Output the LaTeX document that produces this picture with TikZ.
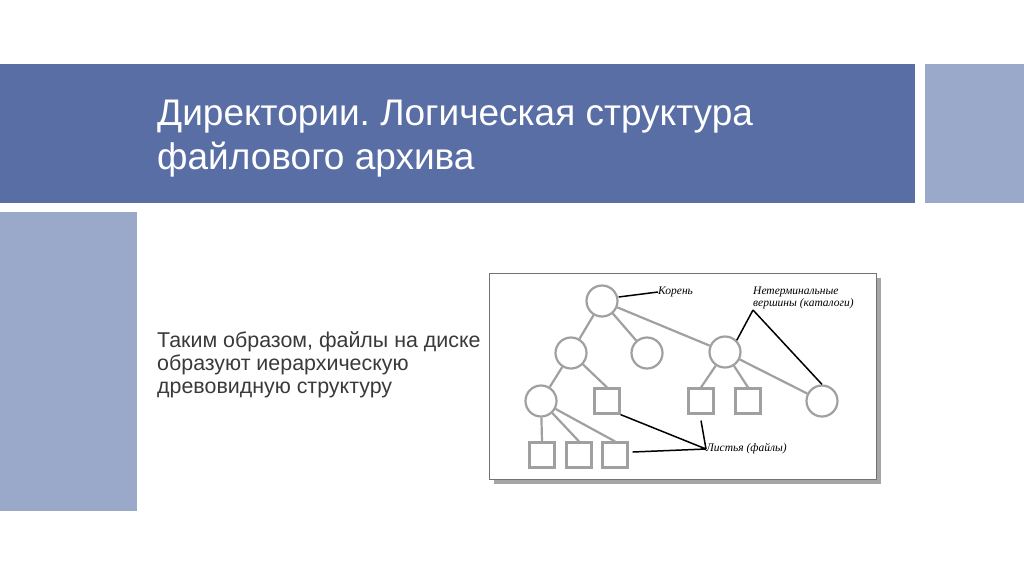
\documentclass[tikz,border=0pt]{standalone}
\usepackage{fontspec}
\setmainfont{Liberation Sans}
\newfontfamily\diagfont{Liberation Serif}
\frenchspacing
\definecolor{banner}{HTML}{5A6EA6}
\definecolor{lightban}{HTML}{9AA9CA}
\definecolor{bodytext}{HTML}{3A3A3A}
\definecolor{edgegrey}{HTML}{A0A0A0}
\begin{document}
\begin{tikzpicture}[x=1pt,y=-1pt,
  vert/.style={circle,draw=edgegrey,line width=2.2pt,minimum size=31pt,inner sep=0pt,fill=white},
  leaf/.style={rectangle,draw=edgegrey,line width=2.2pt,minimum size=25pt,inner sep=0pt,fill=white},
  treeedge/.style={draw=edgegrey,line width=2.2pt},
  pointer/.style={draw=black,line width=1.5pt},
  lbl/.style={font=\diagfont\itshape\fontsize{11.5}{11.5}\selectfont,inner sep=0pt,align=left}]
\useasboundingbox (0,0) rectangle (1024,576);
\fill[white] (0,0) rectangle (1024,576);
% banners
\fill[banner] (0,64) rectangle (915,203);
\fill[lightban] (925,64) rectangle (1024,203);
\fill[lightban] (0,212) rectangle (137,511);
\node[anchor=base west,inner sep=0pt,text=white,align=left,font=\fontsize{37}{44}\selectfont] (title) at (157,169) {Директории. Логическая структура\\файлового архива};
\node[anchor=base west,inner sep=0pt,text=bodytext,align=left,font=\fontsize{21.4}{22.7}\selectfont] (body) at (157,393) {Таким образом, файлы на диске\\образуют иерархическую\\древовидную структуру};
% diagram frame with shadow
\fill[black!35] (494,278) rectangle (881,484);
\draw[black!55,fill=white,line width=0.8pt] (489,273) rectangle (876,479);
% nodes
\node[vert] (root) at (602,301) {};
\node[vert] (a) at (571,353) {};
\node[vert] (b) at (647,353) {};
\node[vert] (c) at (725,352) {};
\node[vert] (a1) at (541,401) {};
\node[leaf] (a2) at (607,401) {};
\node[leaf] (c1) at (701,401) {};
\node[leaf] (c2) at (748,401) {};
\node[vert] (c3) at (822,401) {};
\node[leaf] (f1) at (542,455) {};
\node[leaf] (f2) at (579,455) {};
\node[leaf] (f3) at (615,455) {};
% tree edges
\path[treeedge] (root) -- (a) (root) -- (b) (root) -- (c)
  (a) -- (a1) (a) -- (a2.north)
  (c) -- (c1.north) (c) -- (c2.north) (c) -- (c3)
  (a1) -- (f1.north) (a1) -- (f2.north) (a1) -- (f3.north);
% labels
\node[lbl,anchor=west] (koren) at (658,292) {Корень};
\node[lbl,anchor=north west] (nonterm) at (753,287) {Нетерминальные\\вершины (каталоги)};
\node[lbl,anchor=west] (leaves) at (706,449) {Листья (файлы)};
\coordinate (nt) at (753,310);
\path[pointer] (root.east) ++(0,-4) coordinate (rp) (rp) -- (koren.west);
\path[pointer] (nt) -- (c.north east) (nt) -- (c3.north);
\path[pointer] (a2.south east) -- (leaves.west) (c1.south) ++(0,6) coordinate (c1p) (c1p) -- (leaves.west) (f3.east) ++(4,-3) coordinate (f3p) (f3p) -- (leaves.west);
\end{tikzpicture}
\end{document}
